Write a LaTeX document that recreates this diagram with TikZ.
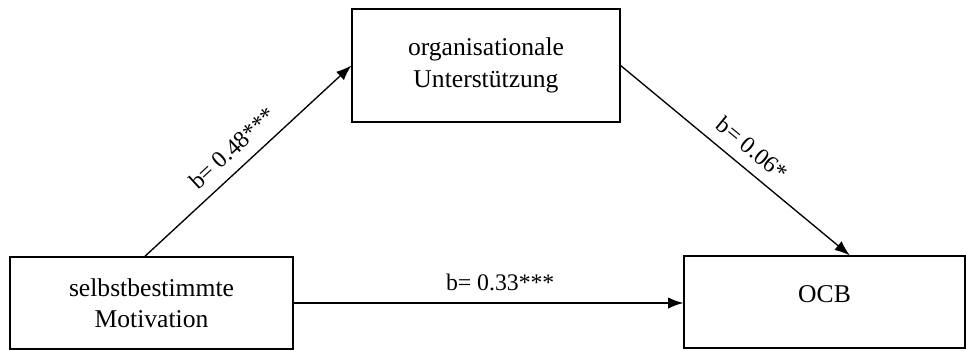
\documentclass[tikz,border=0pt]{standalone}
\usepackage{fontspec}
\setmainfont{Liberation Serif}
\usetikzlibrary{arrows.meta}

\begin{document}
\begin{tikzpicture}[x=0.75pt,y=-0.75pt,
  varbox/.style={draw, line width=0.9pt, inner sep=0pt, align=center,
    font=\fontsize{19.2}{23.5}\selectfont},
  effect/.style={line width=1pt, -{Latex[length=11.5pt,width=8.5pt]}},
  coef/.style={font=\fontsize{17.8}{21}\selectfont, sloped, above=5pt}]
\useasboundingbox (0,0) rectangle (966,350);

  % Draw the three variables
  \node[varbox, minimum width=212.25pt, minimum height=69pt] (motiv) at (151.5,303) {selbstbestimmte\\Motivation};
  \node[varbox, minimum width=201pt, minimum height=84.75pt] (support) at (486,65.5) {organisationale\\Unterstützung};
  \node[varbox, minimum width=210.75pt, minimum height=69pt] (ocb) at (824.5,302) {\raisebox{12pt}{OCB}};

  % Draw the paths and their coefficients
  \draw[effect] ([xshift=-5pt]motiv.north) -- (support.west) node[coef, pos=0.49] {b= 0.48***};
  \draw[effect] (support.east) -- ([xshift=19pt]ocb.north) node[coef, pos=0.52] {b= 0.06*};
  \draw[effect] (motiv.east) -- (motiv.east -| ocb.west) node[coef, pos=0.53] {b= 0.33***};

\end{tikzpicture}
\end{document}
